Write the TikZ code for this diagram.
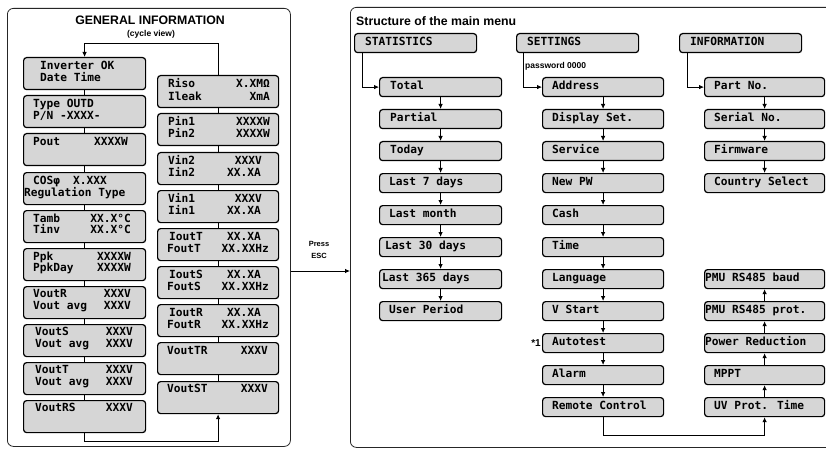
\documentclass[tikz,border=0pt]{standalone}
\usepackage{fontspec}
\setmainfont{Liberation Sans}
\newfontfamily\lcdfont{DejaVu Sans Mono}
\usetikzlibrary{arrows.meta}
\definecolor{boxgray}{RGB}{214,214,214}
\begin{document}
\begin{tikzpicture}[x=1pt,y=-1pt,
  panel/.style={draw=black!85, line width=0.8pt, rounded corners=6pt, inner sep=0, anchor=north west},
  lbox/.style={draw=black, fill=boxgray, line width=1.2pt, rounded corners=3pt, inner sep=0, anchor=north west, minimum width=122pt, minimum height=32pt},
  mbox/.style={lbox, minimum height=19pt},
  lt/.style={font=\fontsize{11.2}{12}\lcdfont\bfseries, inner sep=0, anchor=mid west},
  rt/.style={lt, anchor=mid east},
  conn/.style={line width=0.8pt},
  arr/.style={conn, -{Latex[length=5pt,width=4.5pt]}},
  ttl/.style={font=\bfseries\fontsize{12.3}{14}\selectfont, inner sep=0},
]
\useasboundingbox (0,0) rectangle (826,449);
\fill[white] (0,0) rectangle (826,449);

% ---------- left panel ----------
\node[panel, minimum width=283pt, minimum height=438pt] (lp) at (7,8) {};
\node[ttl] (gi) at (150,20) {GENERAL INFORMATION};
\node[font=\bfseries\fontsize{8.5}{10}\selectfont, inner sep=0] (cv) at (151,34) {(cycle view)};

% left column
\node[lbox] (b1) at (23,57) {};
\node[lbox] (b2) at (23,95) {};
\node[lbox] (b3) at (23,133) {};
\node[lbox] (b4) at (23,172) {};
\node[lbox] (b5) at (23,210) {};
\node[lbox] (b6) at (23,248) {};
\node[lbox] (b7) at (23,286) {};
\node[lbox] (b8) at (23,324) {};
\node[lbox] (b9) at (23,362) {};
\node[lbox] (b10) at (23,400) {};

\node[lt] (t1a) at (40,67) {Inverter OK};
\node[lt] (t1b) at (40,79) {Date Time};
\node[lt] (t2a) at (33,105) {Type OUTD};
\node[lt] (t2b) at (33,117) {P/N -XXXX-};
\node[lt] (t3a) at (33,143) {Pout};
\node[rt] (t3r) at (128,143) {XXXXW};
\node[lt] (t4a) at (33,182) {COSφ};
\node[lt] (t4r) at (73,182) {X.XXX};
\node[lt] (t4b) at (24,194) {Regulation Type};
\node[lt] (t5a) at (33,220) {Tamb};
\node[rt] (t5r) at (131,220) {XX.X°C};
\node[lt] (t5b) at (33,231) {Tinv};
\node[rt] (t5s) at (131,231) {XX.X°C};
\node[lt] (t6a) at (33,258) {Ppk};
\node[rt] (t6r) at (131,258) {XXXXW};
\node[lt] (t6b) at (33,269) {PpkDay};
\node[rt] (t6s) at (131,269) {XXXXW};
\node[lt] (t7a) at (33,295) {VoutR};
\node[rt] (t7r) at (131,295) {XXXV};
\node[lt] (t7b) at (33,307) {Vout avg};
\node[rt] (t7s) at (131,307) {XXXV};
\node[lt] (t8a) at (35,333) {VoutS};
\node[rt] (t8r) at (133,333) {XXXV};
\node[lt] (t8b) at (35,345) {Vout avg};
\node[rt] (t8s) at (133,345) {XXXV};
\node[lt] (t9a) at (35,371) {VoutT};
\node[rt] (t9r) at (133,371) {XXXV};
\node[lt] (t9b) at (35,383) {Vout avg};
\node[rt] (t9s) at (133,383) {XXXV};
\node[lt] (t10a) at (35,409) {VoutRS};
\node[rt] (t10r) at (133,409) {XXXV};

% middle column
\node[lbox, minimum width=121pt] (m1) at (157,75) {};
\node[lbox, minimum width=121pt] (m2) at (157,113) {};
\node[lbox, minimum width=121pt] (m3) at (157,152) {};
\node[lbox, minimum width=121pt] (m4) at (157,190) {};
\node[lbox, minimum width=121pt] (m5) at (157,228) {};
\node[lbox, minimum width=121pt] (m6) at (157,266) {};
\node[lbox, minimum width=121pt] (m7) at (157,304) {};
\node[lbox, minimum width=121pt] (m8) at (157,342) {};
\node[lbox, minimum width=121pt] (m9) at (157,381) {};

\node[lt] (u1a) at (168,85) {Riso};
\node[rt] (u1r) at (270,85) {X.XMΩ};
\node[lt] (u1b) at (168,98) {Ileak};
\node[rt] (u1s) at (270,98) {XmA};
\node[lt] (u2a) at (168,123) {Pin1};
\node[rt] (u2r) at (270,123) {XXXXW};
\node[lt] (u2b) at (168,135) {Pin2};
\node[rt] (u2s) at (270,135) {XXXXW};
\node[lt] (u3a) at (168,162) {Vin2};
\node[rt] (u3r) at (262,162) {XXXV};
\node[lt] (u3b) at (168,174) {Iin2};
\node[rt] (u3s) at (261,174) {XX.XA};
\node[lt] (u4a) at (168,200) {Vin1};
\node[rt] (u4r) at (262,200) {XXXV};
\node[lt] (u4b) at (168,212) {Iin1};
\node[rt] (u4s) at (261,212) {XX.XA};
\node[lt] (u5a) at (169,238) {IoutT};
\node[rt] (u5r) at (261,238) {XX.XA};
\node[lt] (u5b) at (167,250) {FoutT};
\node[rt] (u5s) at (269,250) {XX.XXHz};
\node[lt] (u6a) at (169,276) {IoutS};
\node[rt] (u6r) at (261,276) {XX.XA};
\node[lt] (u6b) at (167,288) {FoutS};
\node[rt] (u6s) at (269,288) {XX.XXHz};
\node[lt] (u7a) at (169,314) {IoutR};
\node[rt] (u7r) at (261,314) {XX.XA};
\node[lt] (u7b) at (167,326) {FoutR};
\node[rt] (u7s) at (269,326) {XX.XXHz};
\node[lt] (u8a) at (167,352) {VoutTR};
\node[rt] (u8r) at (268,352) {XXXV};
\node[lt] (u9a) at (167,390) {VoutST};
\node[rt] (u9r) at (268,390) {XXXV};

% left panel connectors
\foreach \a/\b in {b1/b2,b2/b3,b3/b4,b4/b5,b5/b6,b6/b7,b7/b8,b8/b9,b9/b10,
                   m1/m2,m2/m3,m3/m4,m4/m5,m5/m6,m6/m7,m7/m8,m8/m9}
  \draw[conn] (\a.south) -- (\b.north);
\draw[arr] (m1.north) -- ++(0,-32) -| (b1.north);
\draw[arr] (b10.south) -- ++(0,8) -| (m9.south);

% Press ESC
\node[font=\bfseries\fontsize{7.5}{9}\selectfont, inner sep=0] (pr) at (319,244) {Press};
\node[font=\bfseries\fontsize{7.5}{9}\selectfont, inner sep=0] (esc) at (319,256) {ESC};

% ---------- right panel ----------
\node[panel, minimum width=485pt, minimum height=440pt] (rp) at (350,7) {};
\draw[arr] (lp.east |- 0,271) -- (rp.west |- 0,271);
\node[ttl, anchor=west] (sm) at (356,21) {Structure of the main menu};

\node[mbox] (stat) at (354,33) {};
\node[lt] (statt) at (365,42.5) {STATISTICS};
\node[mbox] (sett) at (516,33) {};
\node[lt] (settt) at (527,42.5) {SETTINGS};
\node[mbox] (info) at (679,33) {};
\node[lt] (infot) at (690,42.5) {INFORMATION};
\node[font=\bfseries\fontsize{8.5}{10}\selectfont, inner sep=0, anchor=west] (pw) at (525,66) {password 0000};
\node[font=\bfseries\fontsize{10}{12}\selectfont, inner sep=0, anchor=east] (st1) at (541,343) {*1};

% statistics items
\foreach \n/\t/\x [count=\k from 0] in {s1/Total/390,s2/Partial/390,s3/Today/390,s4/Last 7 days/389,
   s5/Last month/389,s6/Last 30 days/385,s7/Last 365 days/382,s8/User Period/389}{
  \node[mbox] (\n) at (379,77+32*\k) {};
  \node[lt] (\n t) at (\x,86.5+32*\k) {\t};
}
% settings items
\foreach \n/\t [count=\k from 0] in {e1/Address,e2/Display Set.,e3/Service,e4/New PW,e5/Cash,e6/Time,
   e7/Language,e8/V Start,e9/Autotest,e10/Alarm,e11/Remote Control}{
  \node[mbox, minimum width=121pt] (\n) at (542,77+32*\k) {};
  \node[lt] (\n t) at (552,86.5+32*\k) {\t};
}
% information items
\foreach \n/\t/\x/\y in {i1/Part No./714/77,i2/Serial No./714/109,i3/Firmware/714/141,i4/Country Select/714/173,
   j5/PMU RS485 baud/705/269,j4/PMU RS485 prot./705/301,j3/Power Reduction/705/333,j2/MPPT/714/365,j1/UV Prot. Time/714/397}{
  \node[mbox, minimum width=120pt] (\n) at (704,\y) {};
  \node[lt] (\n t) at (\x,\y+9.5) {\t};
}

% right panel connectors
\draw[arr] ([xshift=8pt]stat.south west) |- (s1.west);
\draw[arr] ([xshift=7pt]sett.south west) |- (e1.west);
\draw[arr] ([xshift=8pt]info.south west) |- (i1.west);
\foreach \a/\b in {s1/s2,s2/s3,s3/s4,s4/s5,s5/s6,s6/s7,s7/s8,
   e1/e2,e2/e3,e3/e4,e4/e5,e5/e6,e6/e7,e7/e8,e8/e9,e9/e10,e10/e11,
   i1/i2,i2/i3,i3/i4}
  \draw[arr] (\a.south) -- (\b.north);
\foreach \a/\b in {j1/j2,j2/j3,j3/j4,j4/j5}
  \draw[arr] (\a.north) -- (\b.south);
\draw[arr] (e11.south) -- ++(0,18) -| (j1.south);
\end{tikzpicture}
\end{document}
